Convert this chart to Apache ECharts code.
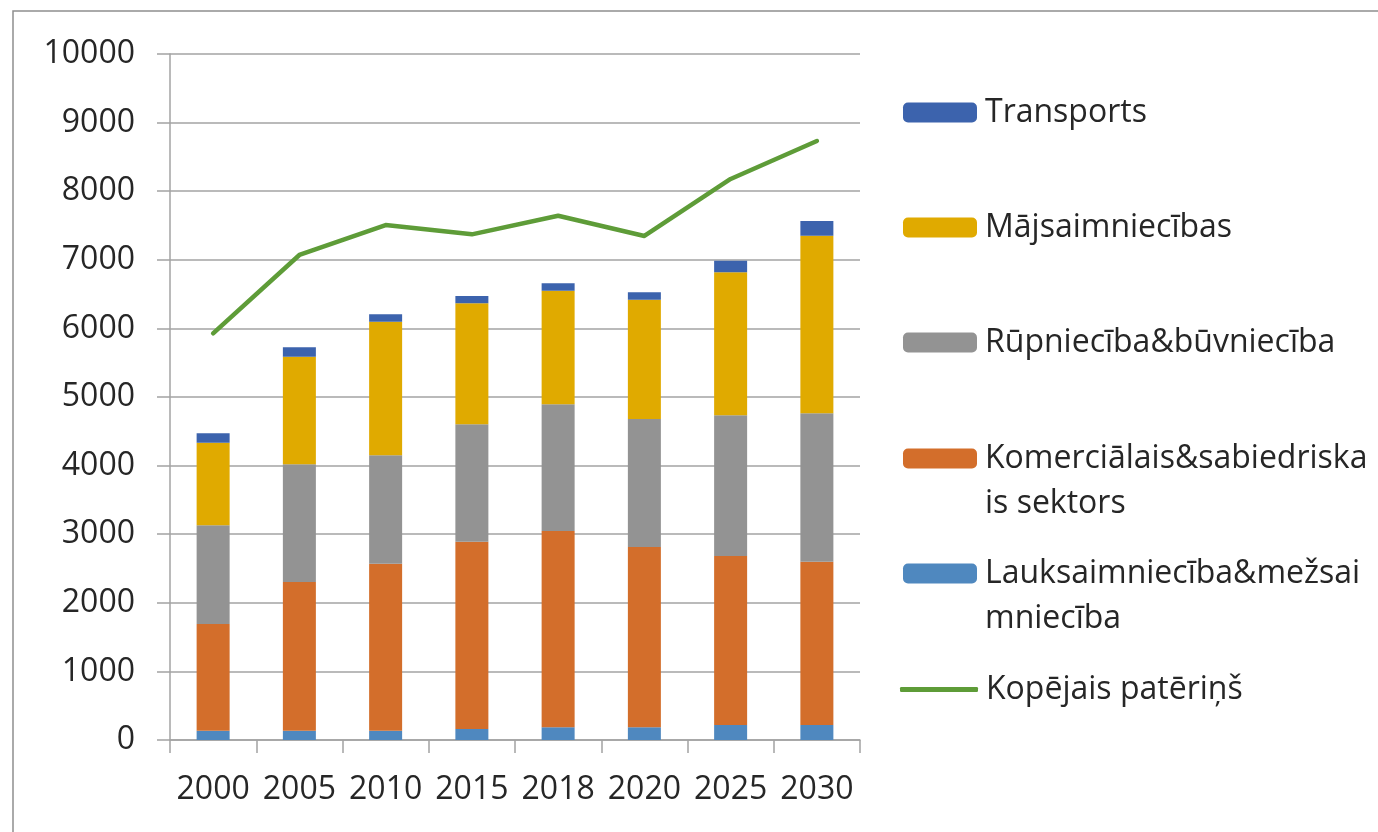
<!DOCTYPE html>
<html>
<head>
<meta charset="utf-8">
<script src="https://cdn.jsdelivr.net/npm/echarts@6/dist/echarts.min.js"></script>
<style>
  html, body { margin: 0; padding: 0; background: #fff; }
  #chart { width: 1378px; height: 832px; }
</style>
</head>
<body>
<div id="chart"></div>
<script>
var years = ["2000", "2005", "2010", "2015", "2018", "2020", "2025", "2030"];

// stacked from bottom to top
var lauksaimnieciba = [135, 135, 135, 160, 185, 185, 219, 219];
var komercialais = [1555, 2168, 2435, 2731, 2862, 2628, 2463, 2380];
var rupnieciba = [1440, 1716, 1580, 1711, 1846, 1866, 2051, 2163];
var majsaimniecibas = [1204, 1569, 1948, 1764, 1657, 1740, 2084, 2590];
var transports = [136, 136, 107, 106, 107, 107, 170, 214];
var kopejais = [5928, 7070, 7507, 7371, 7643, 7347, 8178, 8732];

var yTicks = [0, 1000, 2000, 3000, 4000, 5000, 6000, 7000, 8000, 9000, 10000];

var chartDom = document.getElementById("chart");
var myChart = echarts.init(chartDom);

var font = "'Open Sans', sans-serif";
var textColor = "#262626";
var gridColor = "#a3a3a3";

function legendAt(name, top, label, extra) {
  var l = {
    data: [name],
    left: 903,
    top: top,
    padding: 0,
    itemWidth: 74,
    itemHeight: 20,
    selectedMode: false,
    formatter: function() {
      return label;
    },
    textStyle: {
      fontFamily: font,
      fontSize: 32,
      lineHeight: 45,
      color: textColor,
      padding: [0, 0, 0, 3]
    }
  };
  return Object.assign(l, extra || {});
}

var option = {
  animation: false,
  backgroundColor: "#fff",
  graphic: [
    {
      type: "rect",
      shape: { x: 13, y: 11, width: 1400, height: 900 },
      style: { fill: "none", stroke: "#8f8f8f", lineWidth: 1.5 },
      silent: true
    }
  ],
  grid: {
    left: 170,
    right: 518,
    top: 54,
    bottom: 92
  },
  legend: [
    legendAt("Transports", 90, "Transports"),
    legendAt("Mājsaimniecības", 205, "Mājsaimniecības"),
    legendAt("Rūpniecība&būvniecība", 320, "Rūpniecība&būvniecība"),
    legendAt("Komerciālais&sabiedriskais sektors", 391, "\nKomerciālais&sabiedriska\nis sektors"),
    legendAt("Lauksaimniecība&mežsaimniecība", 506, "\nLauksaimniecība&mežsai\nmniecība"),
    legendAt("Kopējais patēriņš", 667, "Kopējais patēriņš", {
      left: 900,
      itemWidth: 78,
      itemHeight: 5,
      icon: "roundRect"
    })
  ],
  xAxis: {
    type: "category",
    data: years,
    boundaryGap: true,
    axisLine: { show: true, lineStyle: { color: gridColor, width: 1.5 } },
    axisTick: { show: true, interval: 0, length: 13, lineStyle: { color: gridColor, width: 1.5 } },
    axisLabel: {
      interval: 0,
      margin: 34,
      fontFamily: font,
      fontSize: 32,
      color: textColor
    },
    splitLine: { show: false }
  },
  yAxis: {
    type: "value",
    min: yTicks[0],
    max: yTicks[yTicks.length - 1],
    interval: 1000,
    axisLine: { show: true, lineStyle: { color: gridColor, width: 1.5 } },
    axisTick: { show: true, length: 13, lineStyle: { color: gridColor, width: 1.5 } },
    axisLabel: {
      margin: 35,
      fontFamily: font,
      fontSize: 32,
      color: textColor,
      formatter: function(v) {
        return String(v);
      }
    },
    splitLine: { show: true, lineStyle: { color: gridColor, width: 1.5 } }
  },
  series: [
    {
      name: "Lauksaimniecība&mežsaimniecība",
      type: "bar",
      stack: "total",
      barWidth: 33,
      itemStyle: { color: "#4f88bf" },
      data: lauksaimnieciba
    },
    {
      name: "Komerciālais&sabiedriskais sektors",
      type: "bar",
      stack: "total",
      barWidth: 33,
      itemStyle: { color: "#d36e2b" },
      data: komercialais
    },
    {
      name: "Rūpniecība&būvniecība",
      type: "bar",
      stack: "total",
      barWidth: 33,
      itemStyle: { color: "#939393" },
      data: rupnieciba
    },
    {
      name: "Mājsaimniecības",
      type: "bar",
      stack: "total",
      barWidth: 33,
      itemStyle: { color: "#e0aa00" },
      data: majsaimniecibas
    },
    {
      name: "Transports",
      type: "bar",
      stack: "total",
      barWidth: 33,
      itemStyle: { color: "#3c63ad" },
      data: transports
    },
    {
      name: "Kopējais patēriņš",
      type: "line",
      symbol: "none",
      showSymbol: false,
      lineStyle: { color: "#5e9c38", width: 4.5, cap: "round", join: "round" },
      itemStyle: { color: "#5e9c38" },
      data: kopejais
    }
  ]
};

option && myChart.setOption(option);
</script>
</body>
</html>
